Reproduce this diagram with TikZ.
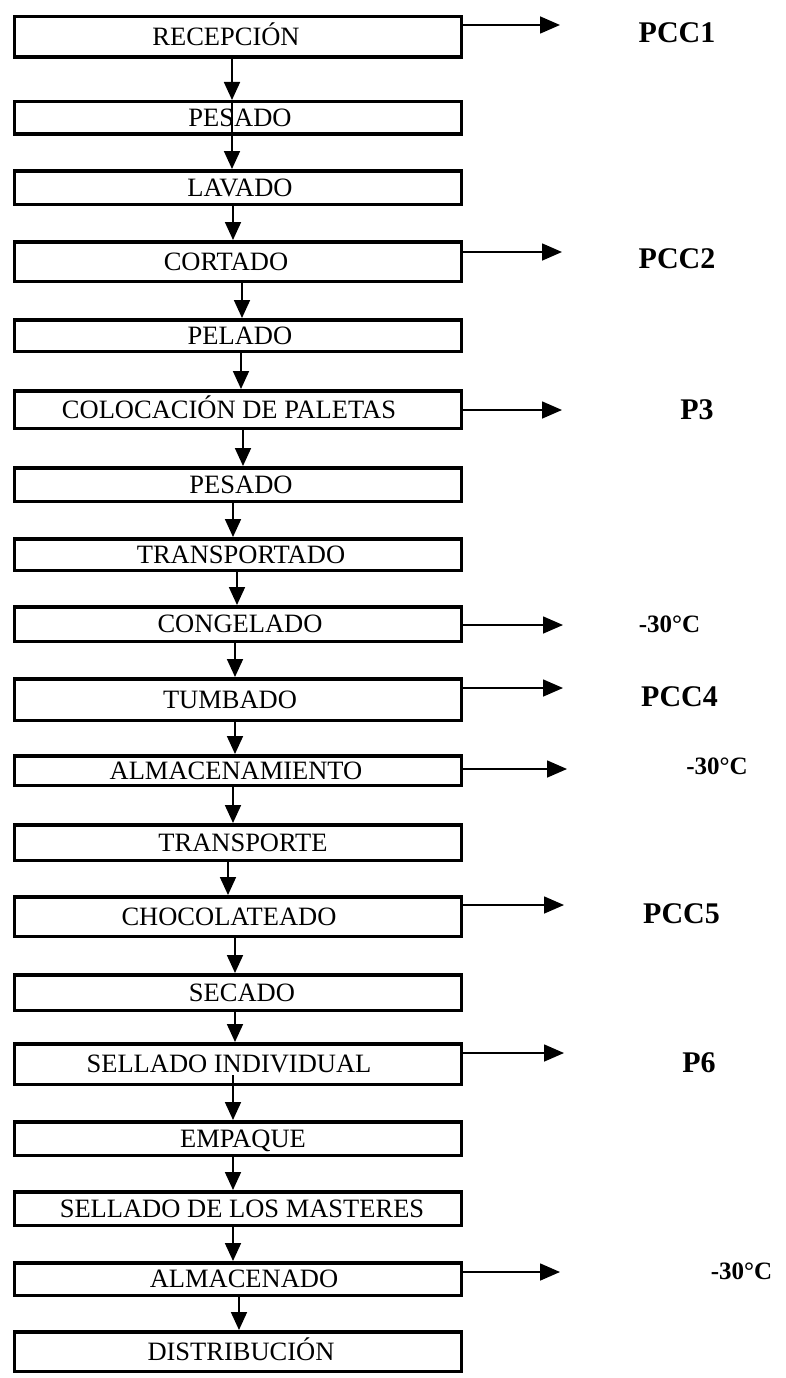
\documentclass[tikz,border=0pt]{standalone}
\usepackage{fontspec}
\setmainfont{Liberation Serif}
\usetikzlibrary{arrows.meta}
\begin{document}
\begin{tikzpicture}[x=1pt,y=-1pt,
  stepbox/.style={draw, line width=3.5pt, minimum width=447pt, inner sep=0pt},
  steptext/.style={font=\fontsize{26.5}{30}\selectfont, inner sep=0pt, text height=17.5pt, text depth=0pt},
  flow/.style={line width=1.8pt, -{Triangle[length=18pt,width=16pt]}},
  side/.style={line width=1.6pt, -{Triangle[length=20pt,width=17pt]}},
  pcc/.style={font=\bfseries\fontsize{30}{34}\selectfont, inner sep=0pt, text height=19.9pt, text depth=0pt},
  temp/.style={font=\bfseries\fontsize{25}{30}\selectfont, inner sep=0pt, text height=16.8pt, text depth=0pt}]

% page
\fill[white] (0,0) rectangle (786,1378);
\useasboundingbox (0,0) rectangle (786,1378);

% process steps: index / centre y / box height / text centre x / text
\foreach \i/\cy/\h/\tx/\txt in {
   1/37/40.5/226/RECEPCIÓN,
   2/118/32.5/240/PESADO,
   3/187.5/33.5/240/LAVADO,
   4/261.5/39.5/226/CORTADO,
   5/335.5/31.5/240/PELADO,
   6/409.5/37.5/229/COLOCACIÓN DE PALETAS,
   7/484.5/33.5/241/PESADO,
   8/554.5/31.5/241/TRANSPORTADO,
   9/624/34.5/240/CONGELADO,
  10/699.5/41.5/230/TUMBADO,
  11/770.5/29.5/236/ALMACENAMIENTO,
  12/842.5/35.5/243/TRANSPORTE,
  13/916.5/39.5/229/CHOCOLATEADO,
  14/992.5/35.5/242/SECADO,
  15/1064/40.5/229/SELLADO INDIVIDUAL,
  16/1138.5/33.5/243/EMPAQUE,
  17/1208.5/33.5/242/SELLADO DE LOS MASTERES,
  18/1279/32.5/244/ALMACENADO,
  19/1351.5/39.5/241/DISTRIBUCIÓN}{
  \node[stepbox, minimum height=\h pt] (b\i) at (238,\cy) {};
  \node[steptext] (s\i) at (\tx,\cy) {\txt};
}

% flow between steps
\draw[flow] (b1.south -| 232,0) -- (b2.north -| 232,0);
\draw[flow] (b2.north -| 232,0) -- (b3.north -| 232,0);
\foreach \a/\b/\x in {3/4/233, 4/5/242, 5/6/241, 6/7/243, 7/8/233, 8/9/237,
                      9/10/235, 10/11/235, 11/12/233, 12/13/228, 13/14/235,
                      14/15/235, 16/17/233, 17/18/233, 18/19/239}{
  \draw[flow] (b\a.south -| \x,0) -- (b\b.north -| \x,0);
}
\draw[flow] ([yshift=11pt]b15.south -| 233,0) -- (b16.north -| 233,0);

% control points
\foreach \n/\y/\xe in {1/25/560, 4/252/562, 6/410/562, 9/625/563, 10/688/563,
                       11/769/567, 13/905/564, 15/1053/564, 18/1272/560}{
  \coordinate (tip\n) at (\xe,\y);
  \draw[side] (b\n.east |- tip\n) -- (tip\n);
}

\node[pcc]  (l1)  at (677,33)    {PCC1};
\node[pcc]  (l4)  at (677,259)   {PCC2};
\node[pcc]  (l6)  at (697,410)   {P3};
\node[temp] (l9)  at (669.5,624) {-30°C};
\node[pcc]  (l10) at (679.5,697) {PCC4};
\node[temp] (l11) at (717,766)   {-30°C};
\node[pcc]  (l13) at (681.5,914) {PCC5};
\node[pcc]  (l15) at (699,1063)  {P6};
\node[temp] (l18) at (741.5,1271) {-30°C};
\end{tikzpicture}
\end{document}
